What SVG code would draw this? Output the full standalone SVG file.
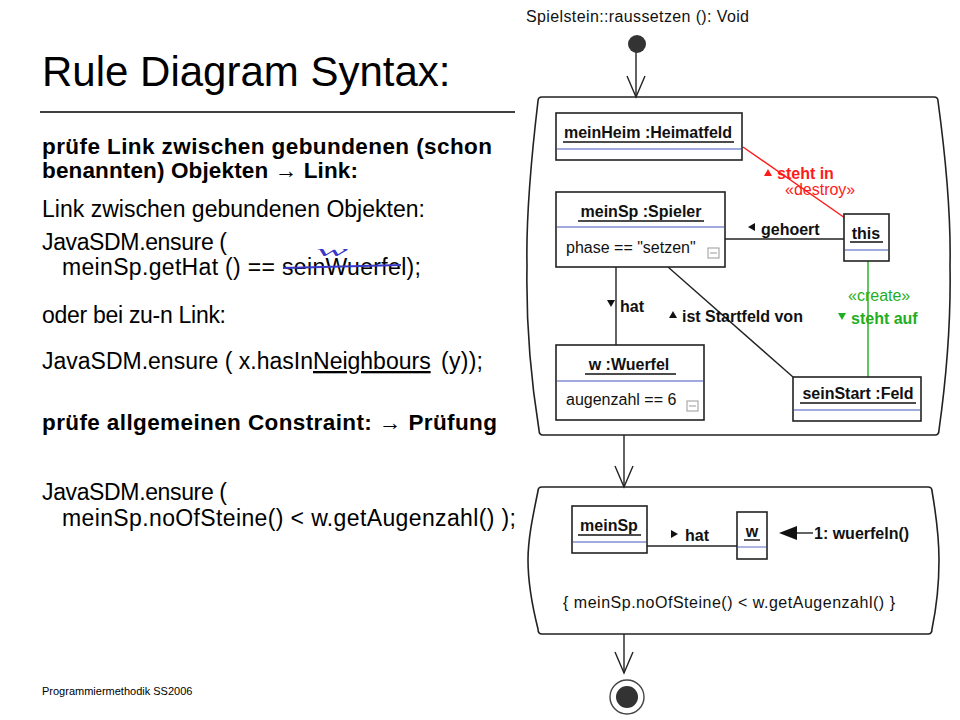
<svg xmlns="http://www.w3.org/2000/svg" width="960" height="720" viewBox="0 0 960 720">
<style>
  .t{font-family:"Liberation Sans",Arial,sans-serif;fill:#000}
  .body{font-size:23px}
  .bb{font-size:22.5px;font-weight:bold}
  .b{font-weight:bold}
  .d{font-family:"Liberation Sans",Arial,sans-serif;font-size:16px;fill:#111}
  .box{fill:#fff;stroke:#222;stroke-width:1.6}
  .sep{stroke:#7f8fcf;stroke-width:1.3}
  .ul{stroke:#111;stroke-width:1.4}
  .ln{stroke:#222;stroke-width:1.4;fill:none}
  .act{fill:none;stroke:#222;stroke-width:1.6}
  .mini{fill:#fff;stroke:#999;stroke-width:1}
</style>
<rect width="960" height="720" fill="#fff"/>

<!-- Left text -->
<g id="slide-text">
  <text class="t" x="42" y="86" font-size="42">Rule Diagram Syntax:</text>
  <line x1="40" y1="112" x2="515" y2="112" stroke="#000" stroke-width="1.3"/>
  <text class="t bb" x="42" y="154" textLength="450">prüfe Link zwischen gebundenen (schon</text>
  <text class="t bb" x="42" y="178" textLength="316">benannten) Objekten → Link:</text>
  <text class="t body" x="42" y="217" textLength="383">Link zwischen gebundenen Objekten:</text>
  <text class="t body" x="42" y="250" textLength="185">JavaSDM.ensure (</text>
  <text class="t body" x="62" y="275" textLength="359">meinSp.getHat () == seinWuerfel);</text>
  <text class="t body" x="42" y="323" textLength="184">oder bei zu-n Link:</text>
  <text class="t body" x="42" y="369">JavaSDM.ensure ( x.hasIn<tspan text-decoration="underline">Neighbours</tspan><tspan x="441" textLength="42">(y));</tspan></text>
  <text class="t bb" x="42" y="430" textLength="455">prüfe allgemeinen Constraint: → Prüfung</text>
  <text class="t body" x="42" y="500" textLength="185">JavaSDM.ensure (</text>
  <text class="t body" x="62" y="526" textLength="454">meinSp.noOfSteine() &lt; w.getAugenzahl()  );</text>
  <text class="t" x="42" y="695" font-size="11">Programmiermethodik SS2006</text>
</g>
<g id="annotation">
  <line x1="283" y1="268" x2="401" y2="265" stroke="#3a3ac8" stroke-width="2"/>
  <text x="316" y="256" font-family="Liberation Serif,serif" font-style="italic" font-size="15" textLength="32" lengthAdjust="spacingAndGlyphs" fill="#3a3ac8">w</text>
</g>

<!-- Right diagram -->
<text class="d" x="526" y="22" textLength="223">Spielstein::raussetzen (): Void</text>

<g id="connectors">
  <!-- control flow -->
  <line class="ln" x1="636" y1="50" x2="636" y2="97"/>
  <polyline class="ln" points="627,76 636,97 645,76"/>
  <line class="ln" x1="624" y1="435" x2="624" y2="487"/>
  <polyline class="ln" points="615,466 624,487 633,466"/>
  <line class="ln" x1="624" y1="634" x2="624" y2="673"/>
  <polyline class="ln" points="615,652 624,673 633,652"/>
  <!-- links rule 1 -->
  <line x1="743" y1="147" x2="845" y2="218" stroke="#ff1a1a" stroke-width="1.4"/>
  <line class="ln" x1="725" y1="239" x2="844" y2="239"/>
  <line class="ln" x1="616" y1="267" x2="616" y2="345"/>
  <line class="ln" x1="668" y1="267" x2="793" y2="377"/>
  <line x1="868" y1="261" x2="868" y2="377" stroke="#1fae1f" stroke-width="1.4"/>
  <!-- link rule 2 -->
  <line class="ln" x1="647" y1="546" x2="737" y2="546"/>
  <line class="ln" x1="795" y1="533" x2="813" y2="533"/>
  <polygon points="779,533 797,526 797,540" fill="#111"/>
</g>

<g id="connector-labels">
  <polygon points="764,176 768,169 772,176" fill="#ff1a1a"/>
  <text class="d b" x="777" y="179" style="fill:#ff1a1a">steht in</text>
  <text class="d" x="785" y="195" font-size="12.5" style="fill:#ff1a1a">«destroy»</text>
  <polygon points="748,227 755,223 755,231" fill="#111"/>
  <text class="d b" x="761" y="235">gehoert</text>
  <polygon points="607,300 615,300 611,307" fill="#111"/>
  <text class="d b" x="620" y="312">hat</text>
  <polygon points="669,318 677,318 673,311" fill="#111"/>
  <text class="d b" x="682" y="322">ist Startfeld von</text>
  <text class="d" x="848" y="301" font-size="13" style="fill:#1fae1f">«create»</text>
  <polygon points="838,313 846,313 842,320" fill="#1fae1f"/>
  <text class="d b" x="851" y="324" style="fill:#1fae1f">steht auf</text>
  <polygon points="671,530 678,534 671,538" fill="#111"/>
  <text class="d b" x="685" y="541">hat</text>
  <text class="d b" x="814" y="539">1: wuerfeln()</text>
  <text class="d" x="563" y="608" textLength="332">{  meinSp.noOfSteine() &lt; w.getAugenzahl()  }</text>
</g>

<g id="start">
  <circle cx="637" cy="44" r="9" fill="#333"/>
</g>

<g id="activity-1">
  <path class="act" d="M542 97 H934 Q938 97 938 101 C946 160 951 220 950 266 C951 320 946 380 939 430 Q939 435 935 435 H543 Q539 435 539 430 C531 380 526 320 527 266 C526 220 531 160 538 101 Q538 97 542 97 Z"/>
</g>

<g id="meinHeim">
  <rect class="box" x="556" y="113" width="186" height="47"/>
  <text class="d b" x="648" y="138" text-anchor="middle">meinHeim :Heimatfeld</text>
  <line class="ul" x1="563" y1="142" x2="734" y2="142"/>
  <line class="sep" x1="557" y1="149" x2="741" y2="149"/>
</g>

<g id="meinSp">
  <rect class="box" x="556" y="192" width="169" height="75"/>
  <text class="d b" x="641" y="217" text-anchor="middle">meinSp :Spieler</text>
  <line class="ul" x1="578" y1="221" x2="704" y2="221"/>
  <line class="sep" x1="557" y1="227" x2="724" y2="227"/>
  <text class="d" x="566" y="253">phase == "setzen"</text>
  <rect class="mini" x="708" y="248" width="11" height="10"/>
  <line x1="710" y1="253" x2="717" y2="253" stroke="#999" stroke-width="1"/>
</g>

<g id="this">
  <rect class="box" x="844" y="214" width="45" height="47"/>
  <text class="d b" x="866" y="239" text-anchor="middle">this</text>
  <line class="ul" x1="850" y1="242" x2="883" y2="242"/>
  <line class="sep" x1="845" y1="250" x2="888" y2="250"/>
</g>

<g id="w-Wuerfel">
  <rect class="box" x="556" y="345" width="148" height="75"/>
  <text class="d b" x="629" y="370" text-anchor="middle">w :Wuerfel</text>
  <line class="ul" x1="585" y1="374" x2="676" y2="374"/>
  <line class="sep" x1="557" y1="381" x2="703" y2="381"/>
  <text class="d" x="566" y="405">augenzahl == 6</text>
  <rect class="mini" x="687" y="401" width="11" height="10"/>
  <line x1="689" y1="406" x2="696" y2="406" stroke="#999" stroke-width="1"/>
</g>

<g id="seinStart">
  <rect class="box" x="793" y="377" width="128" height="44"/>
  <text class="d b" x="858" y="399" text-anchor="middle">seinStart :Feld</text>
  <line class="ul" x1="800" y1="403" x2="916" y2="403"/>
  <line class="sep" x1="794" y1="410" x2="920" y2="410"/>
</g>

<g id="activity-2">
  <path class="act" d="M542 487 H928 Q932 487 932 491 C937 520 939 540 939 560 C939 585 937 605 932 629 Q932 634 928 634 H542 Q538 634 538 629 C532 605 528 585 528 560 C528 540 532 520 538 491 Q538 487 542 487 Z"/>
</g>

<g id="meinSp-2">
  <rect class="box" x="572" y="506" width="75" height="47"/>
  <text class="d b" x="609" y="531" text-anchor="middle">meinSp</text>
  <line class="ul" x1="578" y1="535" x2="641" y2="535"/>
  <line class="sep" x1="573" y1="542" x2="646" y2="542"/>
</g>

<g id="w-2">
  <rect class="box" x="737" y="512" width="30" height="47"/>
  <text class="d b" x="752" y="537" text-anchor="middle">w</text>
  <line class="ul" x1="744" y1="540" x2="760" y2="540"/>
  <line class="sep" x1="738" y1="547" x2="766" y2="547"/>
</g>

<g id="end">
  <circle cx="627" cy="697" r="17" fill="#fff" stroke="#444" stroke-width="1.4"/>
  <circle cx="627" cy="697" r="11" fill="#333"/>
</g>
</svg>
